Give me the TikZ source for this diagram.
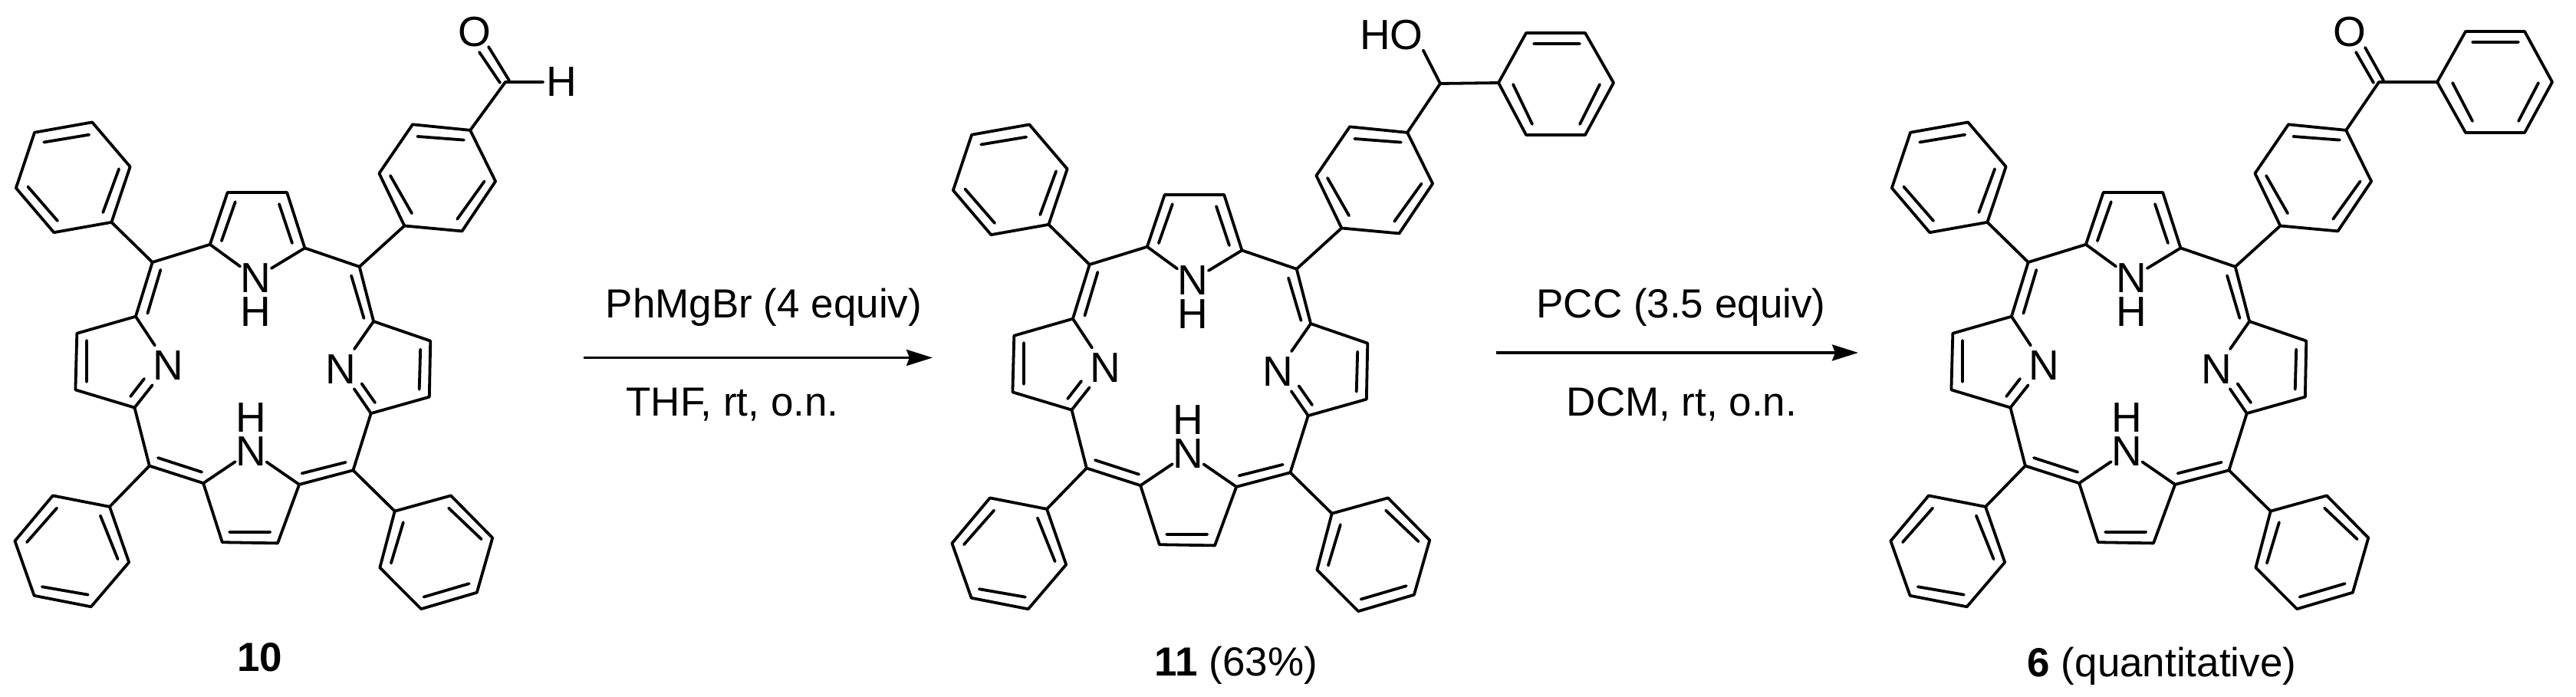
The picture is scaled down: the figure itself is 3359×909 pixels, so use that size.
\documentclass[tikz,border=0pt]{standalone}
\usepackage{fontspec}
\setmainfont{Liberation Sans}
\usetikzlibrary{arrows.meta}
\tikzset{
  bond/.style={line width=3.8pt,line cap=round,line join=round},
  atom/.style={inner sep=.5pt,outer sep=0pt,font=\fontsize{55}{56}\selectfont},
  sideN/.style={atom,inner ysep=7pt},
  txt/.style={anchor=base,inner sep=0pt,font=\fontsize{53}{55}\selectfont},
  rxn/.style={line width=3.2pt,-{Stealth[length=34pt,width=21pt,inset=4pt]}}
}
\newcommand{\ringsix}[7]{%
  \coordinate (#1r1) at #2; \coordinate (#1r2) at #3; \coordinate (#1r3) at #4;
  \coordinate (#1r4) at #5; \coordinate (#1r5) at #6; \coordinate (#1r6) at #7;
  \draw[bond] (#1r1)--(#1r2)--(#1r3)--(#1r4)--(#1r5)--(#1r6)--cycle;}
\newcommand{\porph}[3]{%
\begin{scope}[shift={(#2pt,-#3pt)},x=.4847pt,y=-.5797pt]
  % atoms
  \node[atom] (#1Nt) at (688,625) {N}; \node[atom] (#1Ht) at (688,701) {H};
  \node[sideN] (#1Nl) at (452,822) {N};
  \node[sideN] (#1Nr) at (916,830) {N};
  \node[atom] (#1Nb) at (675,1015) {N}; \node[atom] (#1Hb) at (675,940) {H};
  \coordinate (#1a1) at (565,550); \coordinate (#1a2) at (612,433);
  \coordinate (#1a3) at (772,433); \coordinate (#1a4) at (820,558);
  \coordinate (#1m1) at (410,590);
  \coordinate (#1a5) at (365,712); \coordinate (#1a6) at (207,750);
  \coordinate (#1a7) at (203,877); \coordinate (#1a8) at (362,917);
  \coordinate (#1m2) at (402,1048);
  \coordinate (#1a9) at (547,1087); \coordinate (#1a10) at (598,1220);
  \coordinate (#1a11) at (747,1222); \coordinate (#1a12) at (805,1090);
  \coordinate (#1m3) at (950,1058);
  \coordinate (#1a13) at (998,930); \coordinate (#1a14) at (1155,893);
  \coordinate (#1a15) at (1158,767); \coordinate (#1a16) at (1005,723);
  \coordinate (#1m4) at (967,600);
  % macrocycle
  \draw[bond] (#1Nt)--(#1a1)--(#1a2)--(#1a3)--(#1a4)--(#1Nt);
  \draw[bond] (#1a1)--(#1m1)--(#1a5)--(#1a6)--(#1a7)--(#1a8)--(#1m2)--(#1a9)--(#1a10)--(#1a11)--(#1a12)--(#1m3)--(#1a13)--(#1a14)--(#1a15)--(#1a16)--(#1m4)--(#1a4);
  \draw[bond] (#1a5)--(#1Nl); \draw[bond] (#1a8)--(#1Nl);
  \draw[bond] (#1a9)--(#1Nb); \draw[bond] (#1a12)--(#1Nb);
  \draw[bond] (#1a13)--(#1Nr); \draw[bond] (#1a16)--(#1Nr);
  % inner lines of double bonds
  \draw[bond] (596,542)--(633,454) (751,459)--(786,547)
    (432,607)--(397,705) (233,766)--(233,859) (351,892)--(388,852)
    (425,1030)--(543,1062) (617,1197)--(727,1197)
    (812,1065)--(930,1040) (973,863)--(1009,906)
    (1131,786)--(1128,876) (945,620)--(979,716);
  % phenyl rings
  \ringsix{#1tl}{(300,500)}{(350,375)}{(248,275)}{(93,298)}{(43,423)}{(145,523)}
  \draw[bond] (277,478)--(320,380) (118,320)--(240,303) (75,420)--(155,497);
  \draw[bond] (#1m1)--(#1tlr1);
  \ringsix{#1bl}{(295,1140)}{(347,1265)}{(245,1365)}{(92,1340)}{(40,1217)}{(142,1115)}
  \draw[bond] (270,1160)--(317,1258) (113,1320)--(237,1338) (72,1220)--(153,1143);
  \draw[bond] (#1m2)--(#1blr1);
  \ringsix{#1br}{(1062,1150)}{(1213,1115)}{(1325,1210)}{(1283,1333)}{(1133,1370)}{(1022,1277)}
  \draw[bond] (1085,1175)--(1052,1267) (1207,1143)--(1295,1213) (1140,1343)--(1262,1313);
  \draw[bond] (#1m3)--(#1brr1);
  \ringsix{#1tr}{(1088,508)}{(1243,520)}{(1333,408)}{(1265,293)}{(1110,280)}{(1020,390)}
  \draw[bond] (1108,480)--(1050,395) (1230,493)--(1303,408) (1123,307)--(1248,315);
  \draw[bond] (#1m4)--(#1trr1);
\end{scope}}
\begin{document}
\begin{tikzpicture}[x=1pt,y=-1pt]
\useasboundingbox (0,0) rectangle (3359,909);
\porph{A}{0}{0}
\porph{B}{1222}{3}
\porph{C}{2446}{0}
% molecule 10: aldehyde
\coordinate (Ac) at (659,107);
\node[atom] (Ao) at (618.5,41.5) {O};
\node[atom,inner xsep=4pt] (Ah) at (732,107) {H};
\draw[bond] (Atrr4)--(Ac)--(Ah);
\draw[bond] (625,68)--(652,108) (637,61)--(664,105);
% molecule 11: carbinol
\coordinate (Bc) at (1878,109);
\node[atom,inner sep=0pt] (Bo) at (1814.5,46) {HO};
\ringsix{Bp}{(1954,108)}{(1990,43)}{(2067,43)}{(2104,108)}{(2067,176)}{(1990,176)}
\draw[bond] (Btrr4)--(Bc)--(Bpr1);
\draw[bond] (Bc)--(Bo.south east);
\draw[bond] (2000,57)--(2060,57) (2086,110)--(2060,162) (1998,162)--(1973,110);
% molecule 6: ketone
\coordinate (Cc) at (3102,107);
\node[atom] (Co) at (3064,42) {O};
\ringsix{Cp}{(3178,107)}{(3215,41)}{(3292,41)}{(3328,107)}{(3292,173)}{(3215,173)}
\draw[bond] (Ctrr4)--(Cc)--(Cpr1);
\draw[bond] (3072,68)--(3095,108) (3084,62)--(3108,105);
\draw[bond] (3224,55)--(3284,55) (3310,108)--(3284,158) (3224,158)--(3198,108);
% arrows
\coordinate (r1s) at (761,466.5); \coordinate (r1e) at (1216,466.5);
\coordinate (r2s) at (1951,460); \coordinate (r2e) at (2423,460);
\draw[rxn] (r1s)--(r1e);
\draw[rxn] (r2s)--(r2e);
% labels
\node[txt] (t1) at (996,414) {PhMgBr (4 equiv)};
\node[txt] (t2) at (955,542) {THF, rt, o.n.};
\node[txt] (t3) at (2192,414) {PCC (3.5 equiv)};
\node[txt] (t4) at (2193,542) {DCM, rt, o.n.};
\node[txt] (l1) at (339,875) {\textbf{10}};
\node[txt] (l2) at (1612,881) {\textbf{11} (63\%)};
\node[txt] (l3) at (2819,882) {\textbf{6} (quantitative)};
\end{tikzpicture}
\end{document}
